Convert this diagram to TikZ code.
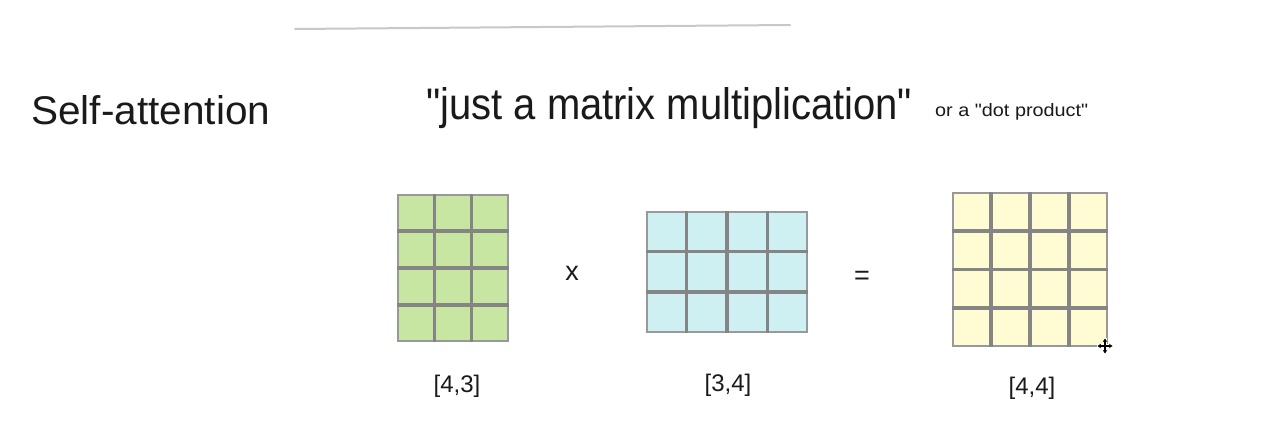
\documentclass[tikz,border=0pt]{standalone}
\usepackage{fontspec}
\setmainfont{Liberation Sans}
\usepackage{graphicx}
\usetikzlibrary{calc,arrows.meta}
\definecolor{gridgray}{HTML}{858585}
\definecolor{bordergray}{HTML}{999999}
\definecolor{matgreen}{HTML}{C6E6A1}
\definecolor{matblue}{HTML}{CEF0F2}
\definecolor{matyellow}{HTML}{FFFBD2}
\definecolor{rulegray}{HTML}{C8C8C8}
\definecolor{inkblack}{HTML}{1A1A1A}
\tikzset{
  matbox/.style={draw=bordergray, line width=1.5pt, inner sep=0pt},
  gridline/.style={draw=gridgray, line width=3.5pt},
  dimlabel/.style={font=\fontsize{24}{26}\selectfont, text=inkblack, inner sep=0pt},
  opsign/.style={font=\fontsize{27}{28}\selectfont, text=inkblack, inner sep=0pt},
  hand/.style={text=inkblack, inner sep=0pt, anchor=base west},
}
\newcommand{\dq}{\textquotedbl}
\begin{document}
\begin{tikzpicture}[x=1pt,y=-1pt]
\useasboundingbox (0,0) rectangle (1280,430);
\fill[white] (0,0) rectangle (1280,430);
% top rule
\draw[rulegray, line width=2pt, line cap=round] (295,29) -- (790,25);
% titles
\node[hand] (title) at (31,125) {\resizebox{239pt}{29pt}{Self-attention}};
\node[hand] (quote) at (426,120) {\resizebox{486pt}{32pt}{\dq just a matrix multiplication\dq}};
\node[hand] (aside) at (935,117) {\resizebox{153pt}{13pt}{or a \dq dot product\dq}};
% matrices
\node[matbox, fill=matgreen, minimum width=110pt, minimum height=146pt] (A) at (453,268) {};
\node[matbox, fill=matblue, minimum width=160pt, minimum height=120pt] (B) at (727,272) {};
\node[matbox, fill=matyellow, minimum width=154pt, minimum height=153pt] (C) at (1030,269.5) {};
% grid A: 3 cols x 4 rows
\foreach \i in {1,2}
  \draw[gridline] ($(A.north west)!\i/3!(A.north east)$) -- ($(A.south west)!\i/3!(A.south east)$);
\foreach \j in {1,2,3}
  \draw[gridline] ($(A.north west)!\j/4!(A.south west)$) -- ($(A.north east)!\j/4!(A.south east)$);
% grid B: 4 cols x 3 rows
\foreach \i in {1,2,3}
  \draw[gridline] ($(B.north west)!\i/4!(B.north east)$) -- ($(B.south west)!\i/4!(B.south east)$);
\foreach \j in {1,2}
  \draw[gridline] ($(B.north west)!\j/3!(B.south west)$) -- ($(B.north east)!\j/3!(B.south east)$);
% grid C: 4 cols x 4 rows
\foreach \i in {1,2,3}
  \draw[gridline] ($(C.north west)!\i/4!(C.north east)$) -- ($(C.south west)!\i/4!(C.south east)$);
\foreach \j in {1,2,3}
  \draw[gridline] ($(C.north west)!\j/4!(C.south west)$) -- ($(C.north east)!\j/4!(C.south east)$);
% operators
\node[opsign] (times) at (572,273) {x};
\node[opsign] (equals) at (862,278) {=};
% dimension labels
\node[dimlabel] (la) at (457,386) {[4,3]};
\node[dimlabel] (lb) at (728,385) {[3,4]};
\node[dimlabel] (lc) at (1032,388) {[4,4]};
% move cursor
\coordinate (cur) at (1105,346);
\draw[white, line width=3.4pt] ($(cur)+(-8,0)$) -- ($(cur)+(8,0)$) ($(cur)+(0,-8)$) -- ($(cur)+(0,8)$);
\draw[black, line width=1.3pt, {Stealth[length=3.5pt,width=4.5pt]}-{Stealth[length=3.5pt,width=4.5pt]}] ($(cur)+(-7.5,0)$) -- ($(cur)+(7.5,0)$);
\draw[black, line width=1.3pt, {Stealth[length=3.5pt,width=4.5pt]}-{Stealth[length=3.5pt,width=4.5pt]}] ($(cur)+(0,-7.5)$) -- ($(cur)+(0,7.5)$);
\end{tikzpicture}
\end{document}
